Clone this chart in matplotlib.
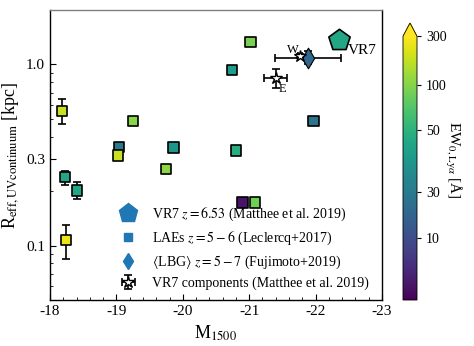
import numpy as np
import matplotlib
matplotlib.use("Agg")
import matplotlib.pyplot as plt
from matplotlib.colors import FuncNorm
from matplotlib.lines import Line2D
from matplotlib.ticker import FixedLocator, NullFormatter

plt.rcParams['font.family'] = ['Liberation Serif', 'DejaVu Serif']
plt.rcParams['mathtext.fontset'] = 'stix'
plt.rcParams['axes.unicode_minus'] = False

# LAEs z=5-6 (Leclercq+2017)
lae_m = [-18.18, -18.23, -18.41, -18.24, -19.04, -19.02, -19.25, -19.86,
         -19.75, -20.74, -21.02, -20.80, -21.97, -20.90, -21.09]
lae_r = [0.552, 0.238, 0.201, 0.107, 0.349, 0.314, 0.486, 0.348,
         0.264, 0.935, 1.33, 0.335, 0.489, 0.173, 0.173]
lae_ew = [210, 46, 46, 270, 29, 210, 105, 40,
          115, 42, 95, 48, 27, 3, 90]
# only the faint ones have size errors drawn
err_m = [-18.18, -18.23, -18.41, -18.24]
err_r = [0.552, 0.238, 0.201, 0.107]
err_lo = [0.467, 0.216, 0.180, 0.0845]
err_hi = [0.641, 0.257, 0.224, 0.129]

# VR7 z=6.53
vr7_m, vr7_r, vr7_ew = -22.35, 1.36, 46
# <LBG> z=5-7 (Fujimoto+2019)
lbg_m, lbg_r, lbg_ew = -21.89, 1.09, 21
lbg_merr, lbg_rlo, lbg_rhi = 0.50, 1.00, 1.19
# VR7 components W and E
comp_name = ['W', 'E']
comp_m = [-21.77, -21.40]
comp_r = [1.11, 0.845]
comp_merr = [0.03, 0.17]
comp_rlo = [1.08, 0.74]
comp_rhi = [1.14, 0.947]

# colourbar: EW ticks and where they sit along the bar
cb_ew = [1, 10, 30, 50, 100, 300]
cb_pos = [0.0, 0.235, 0.408, 0.643, 0.816, 1.0]


def fwd(v):
    return np.interp(v, cb_ew, cb_pos)


def inv(v):
    return np.interp(v, cb_pos, cb_ew)


norm = FuncNorm((fwd, inv), vmin=1, vmax=300)
cmap = plt.get_cmap('viridis')

fig = plt.figure(figsize=(4.74, 3.46), dpi=100)
ax = fig.add_axes([50 / 474, 46 / 346, 332 / 474, 290 / 346])
cax = fig.add_axes([403 / 474, 46 / 346, 14 / 474, 277 / 346])

# error bars of LAEs
ax.errorbar(err_m, err_r,
            yerr=[np.array(err_r) - np.array(err_lo), np.array(err_hi) - np.array(err_r)],
            fmt='none', ecolor='k', elinewidth=1.2, capsize=3, capthick=1.2, zorder=2)
sc = ax.scatter(lae_m, lae_r, c=lae_ew, cmap=cmap, norm=norm, marker='s', s=55,
                edgecolors='k', linewidths=1.2, zorder=3)

ax.scatter([vr7_m], [vr7_r], c=[vr7_ew], cmap=cmap, norm=norm, marker='p', s=260,
           edgecolors='k', linewidths=1.2, zorder=3)
ax.text(vr7_m - 0.13, vr7_r * 0.88, 'VR7', fontsize=11, va='center', ha='left')

ax.errorbar([lbg_m], [lbg_r], xerr=[[lbg_merr], [lbg_merr]],
            yerr=[[lbg_r - lbg_rlo], [lbg_rhi - lbg_r]],
            fmt='none', ecolor='k', elinewidth=1.2, capsize=3, capthick=1.2, zorder=2)
ax.scatter([lbg_m], [lbg_r], c=[lbg_ew], cmap=cmap, norm=norm, marker='d', s=110,
           edgecolors='k', linewidths=0.8, zorder=3)

ax.errorbar(comp_m, comp_r, xerr=comp_merr,
            yerr=[np.array(comp_r) - np.array(comp_rlo), np.array(comp_rhi) - np.array(comp_r)],
            fmt='*', mfc='white', mec='k', ms=9, ecolor='k', elinewidth=1.2,
            capsize=3, capthick=1.2, zorder=4)
ax.text(comp_m[0] + 0.12, comp_r[0] * 1.01, comp_name[0], fontsize=9, ha='center', va='bottom')
ax.text(comp_m[1] - 0.05, comp_r[1] * 0.94, comp_name[1], fontsize=9, ha='left', va='top')

ax.set_xlim(-18, -23)
ax.set_yscale('log')
ax.set_ylim(0.05, 2.0)
ax.set_xticks([-18, -19, -20, -21, -22, -23])
ax.set_xticklabels(['-18', '-19', '-20', '-21', '-22', '-23'])
ax.xaxis.set_minor_locator(FixedLocator(np.arange(-23, -17.9, 0.2)))
ax.set_yticks([0.1, 0.3, 1.0])
ax.set_yticklabels(['0.1', '0.3', '1.0'])
ax.yaxis.set_minor_formatter(NullFormatter())
ax.tick_params(which='both', direction='in', labelsize=11)
ax.tick_params(which='major', length=4)
ax.tick_params(which='minor', length=2)
for s in ax.spines.values():
    s.set_linewidth(1.0)
ax.spines['top'].set_color('0.5')
ax.set_xlabel(r'M$_{1500}$', fontsize=13)
ax.set_ylabel(r'R$_{\rm eff, UV continuum}$ [kpc]', fontsize=13)

handles = [
    Line2D([], [], marker='p', ls='none', color='#1f77b4', ms=14),
    Line2D([], [], marker='s', ls='none', color='#1f77b4', ms=6),
    Line2D([], [], marker='d', ls='none', color='#1f77b4', ms=8),
    ax.containers[-1],
]
labels = [r'VR7 $z=6.53$ (Matthee et al. 2019)',
          r'LAEs $z=5-6$ (Leclercq+2017)',
          r'$\langle$LBG$\rangle$ $z=5-7$ (Fujimoto+2019)',
          'VR7 components (Matthee et al. 2019)']
ax.legend(handles, labels, loc='lower right', bbox_to_anchor=(0.99, 0.0), frameon=False,
          fontsize=10, labelspacing=0.45, handletextpad=0.7, borderaxespad=0.3)

cb = fig.colorbar(sc, cax=cax, extend='max')
cb.set_ticks([10, 30, 50, 100, 300])
cb.set_ticklabels(['10', '30', '50', '100', '300'])
cb.ax.minorticks_off()
cb.ax.tick_params(labelsize=10, length=3)
cb.outline.set_linewidth(0.6)
cb.set_label(r'EW$_{0,{\rm Ly}\alpha}$ [Å]', rotation=270, fontsize=11)
cb.ax.yaxis.label.set_va('center')
cb.ax.yaxis.label.set_ha('center')
cb.ax.yaxis.set_label_coords(3.55, 0.53)

fig.savefig('out.png', dpi=100)
